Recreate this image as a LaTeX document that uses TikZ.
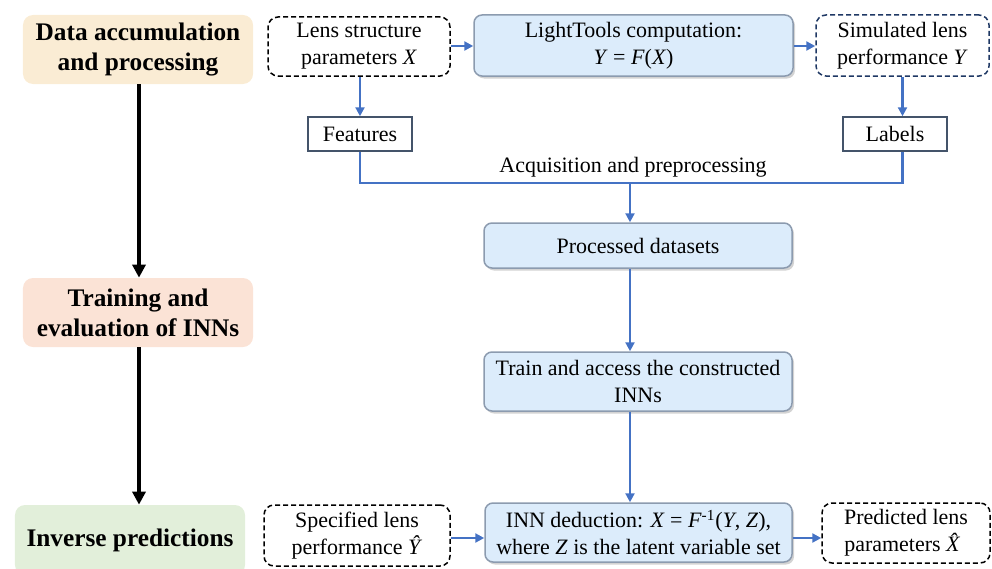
\documentclass[tikz,border=0pt]{standalone}
\usepackage{fontspec}
\setmainfont{Liberation Serif}
\usetikzlibrary{arrows.meta,positioning,calc,shadows}
\definecolor{flowblue}{RGB}{68,114,196}
\definecolor{boxblue}{RGB}{220,236,251}
\definecolor{boxedge}{RGB}{140,155,175}
\definecolor{slate}{RGB}{68,84,106}
\definecolor{navy}{RGB}{31,56,100}
\definecolor{stageA}{RGB}{250,236,212}
\definecolor{stageB}{RGB}{251,227,214}
\definecolor{stageC}{RGB}{226,239,218}

\begin{document}
\begin{tikzpicture}[x=0.2mm, y=-0.2mm,
    every node/.style={font=\fontsize{12.5}{15.5}\selectfont, align=center, inner sep=0pt},
    stage/.style={fill=#1, rounded corners=2mm, minimum width=46mm, minimum height=13.8mm,
        font=\fontsize{14.4}{17}\selectfont\bfseries},
    dashbox/.style={draw=#1, line width=0.3mm, dash pattern=on 1mm off 0.6mm,
        rounded corners=2mm},
    dashbox/.default=black,
    calcbox/.style={draw=boxedge, line width=0.3mm, fill=boxblue, rounded corners=1.6mm,
        drop shadow={shadow xshift=0.4mm, shadow yshift=-0.5mm, opacity=0.35}},
    plainbox/.style={draw=slate, line width=0.3mm, minimum width=20.8mm, minimum height=6.8mm},
    flow/.style={flowblue, line width=0.5mm, -{Triangle[length=1.8mm, width=1.8mm]}},
    stagearrow/.style={black, line width=0.7mm, -{Triangle[length=2.6mm, width=2.6mm]}}]
    \useasboundingbox (0,0) rectangle (992,568);

    % Stages on the left
    \node[stage=stageA] (data) at (138,49.5) {Data accumulation\\and processing};
    \node[stage=stageB] (train) at (138,312.5) {Training and\\evaluation of INNs};
    \node[stage=stageC, minimum height=14mm] (inverse) at (130,540) {Inverse predictions};
    \draw[stagearrow] (data.south -| 139,0) -- (train.north -| 139,0);
    \draw[stagearrow] (train.south -| 139,0) -- (inverse.north -| 139,0);

    % Data accumulation row
    \node[dashbox, minimum width=36.4mm, minimum height=11.8mm] (lens) at (359,46.5)
        {Lens structure\\parameters \textit{X}};
    \node[calcbox, minimum width=63.8mm, minimum height=12.2mm] (light) at (633.5,45.5)
        {LightTools computation:\\\textit{Y} = \textit{F}(\textit{X})};
    \node[dashbox=navy, minimum width=34.6mm, minimum height=12.2mm] (sim) at (902.5,45.5)
        {Simulated lens\\performance \textit{Y}};
    \node[plainbox] (feat) at (360,134) {Features};
    \node[plainbox] (labels) at (895,134) {Labels};

    \draw[flow] (lens.east |- 0,46) -- (light.west |- 0,46);
    \draw[flow] (light.east |- 0,46) -- (sim.west |- 0,46);
    \draw[flow] (lens.south -| feat) -- (feat.north);
    \draw[flow] (sim.south) -- (sim.south |- labels.north);

    % Merge of features and labels
    \coordinate (join) at (630,183);
    \draw[flowblue, line width=0.5mm] (feat.south) |- (join) -| (sim.south |- labels.south);
    \node at (633,167) {Acquisition and preprocessing};

    % Training column
    \node[calcbox, minimum width=61.6mm, minimum height=9mm] (proc) at (638,245.5)
        {Processed datasets};
    \node[calcbox, minimum width=61.6mm, minimum height=11.8mm] (trainbox) at (638,381.5)
        {Train and access the constructed\\INNs};
    \node[calcbox, minimum width=61.4mm, minimum height=11.8mm] (inn) at (638.5,532.5)
        {INN deduction: \textit{X} = \textit{F}\textsuperscript{-1}(\textit{Y}, \textit{Z}),\\where \textit{Z} is the latent variable set};
    \draw[flow] (join) -- (join |- proc.north);
    \draw[flow] (join |- proc.south) -- (join |- trainbox.north);
    \draw[flow] (join |- trainbox.south) -- (join |- inn.north);

    % Inverse prediction row
    \node[dashbox, minimum width=37.2mm, minimum height=12.2mm] (spec) at (357,535.5)
        {Specified lens\\performance \textit{Ŷ}};
    \node[dashbox, minimum width=33.6mm, minimum height=12mm] (pred) at (906,533)
        {Predicted lens\\parameters \textit{\^{X}}};
    \draw[flow] (spec.east |- 0,538) -- (inn.west |- 0,538);
    \draw[flow] (inn.east |- 0,538) -- (pred.west |- 0,538);
\end{tikzpicture}
\end{document}
